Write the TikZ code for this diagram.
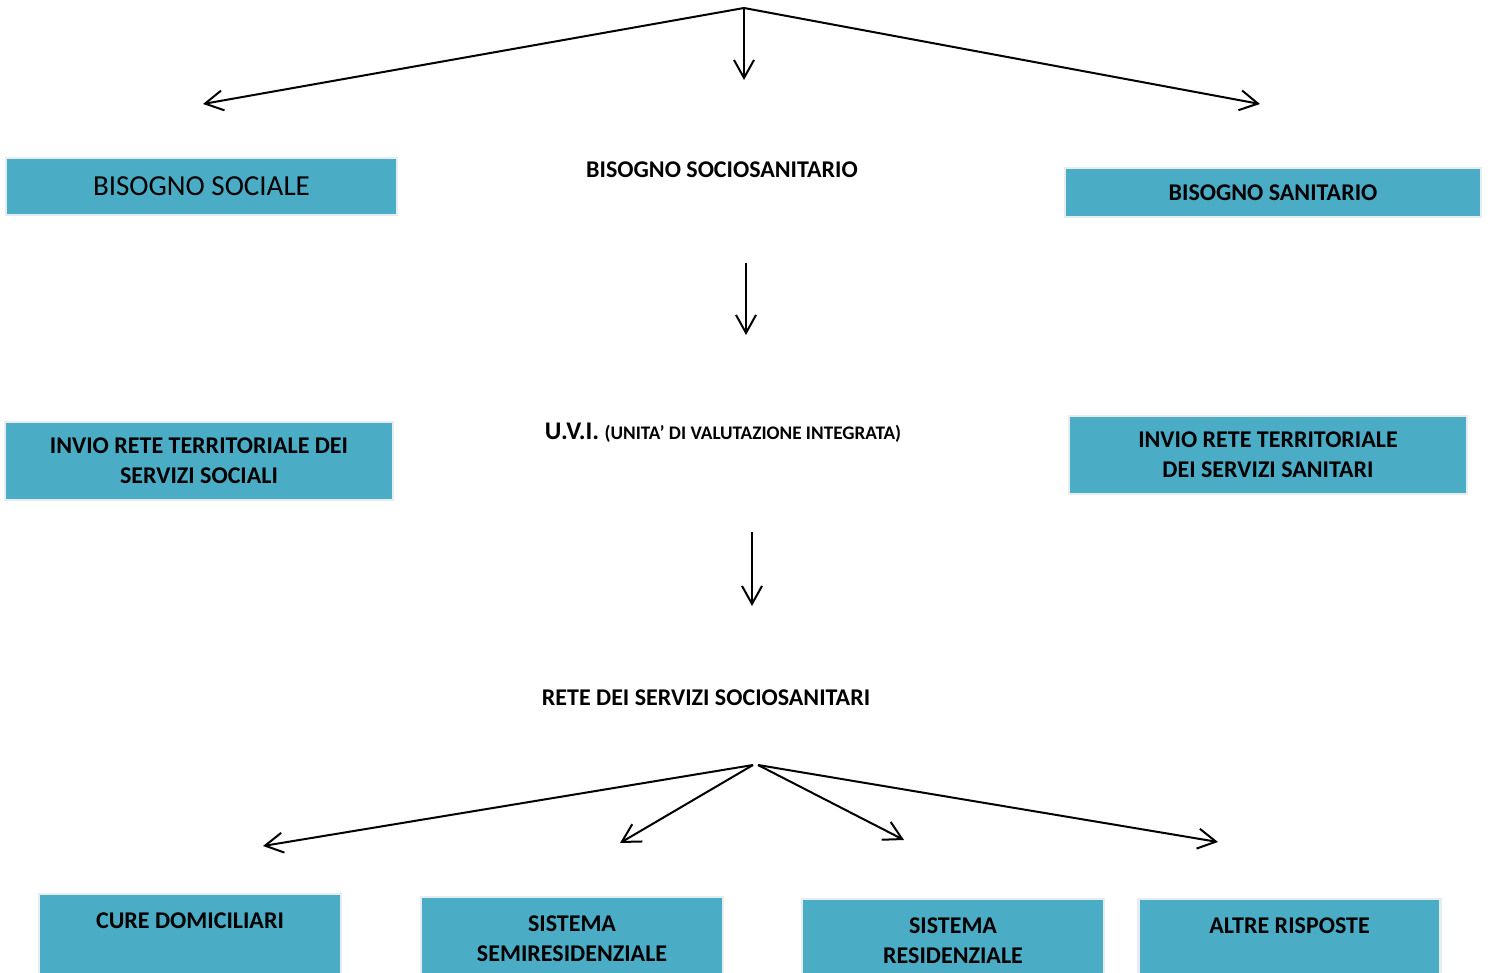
\documentclass[tikz,border=0pt]{standalone}
\usepackage{fontspec}
\setmainfont{Carlito}
\usetikzlibrary{arrows.meta, positioning}
\definecolor{boxblue}{RGB}{75,172,198}
\definecolor{boxedge}{RGB}{230,237,240}

\begin{document}
\begin{tikzpicture}[x=0.5pt, y=-0.5pt, line width=1pt, >={Straight Barb[length=9pt,width=10pt]},
  box/.style = {draw=boxedge, line width=1.2pt, fill=boxblue, align=center, inner sep=0pt, font=\fontsize{12}{15}\selectfont\bfseries},
  lowbox/.style = {box, anchor=north, minimum width=151pt, inner ysep=9.5pt, text depth=60pt},
  lbl/.style = {inner sep=0pt, font=\fontsize{12}{15}\selectfont\bfseries}]
\clip (0,0) rectangle (1490,973);

\node[box, minimum width=195.5pt, minimum height=28.5pt, font=\fontsize{14.5}{17}\selectfont] (social) at (201.5,186.5) {BISOGNO SOCIALE};
\node[lbl] (sociosan) at (722,170) {BISOGNO SOCIOSANITARIO};
\node[box, minimum width=208pt, minimum height=24.5pt] (sanitario) at (1273,192.5) {BISOGNO SANITARIO};

\node[box, minimum width=194pt, minimum height=39pt] (invsoc) at (199,461) {INVIO RETE TERRITORIALE DEI\\SERVIZI SOCIALI};
\node[lbl] (uvi) at (723,433) {{\fontsize{12.7}{15}\selectfont U.V.I.} {\fontsize{9.6}{11}\selectfont (UNITA’ DI VALUTAZIONE INTEGRATA)}};
\node[box, minimum width=199pt, minimum height=39pt] (invsan) at (1268,455) {INVIO RETE TERRITORIALE\\DEI SERVIZI SANITARI};

\node[lbl] (rete) at (706,698) {RETE DEI SERVIZI SOCIOSANITARI};

\node[lowbox] (cure) at (190,893) {CURE DOMICILIARI};
\node[lowbox] (semi) at (572,896) {SISTEMA\\SEMIRESIDENZIALE};
\node[lowbox] (resid) at (953,898) {SISTEMA\\RESIDENZIALE};
\node[lowbox] (altre) at (1289.5,898) {ALTRE RISPOSTE};

\coordinate (top) at (744,8);
\coordinate (topL) at (203,104);
\coordinate (topM) at (744,80);
\coordinate (topR) at (1260,104);
\coordinate (uviIn) at (746,263);
\coordinate (uviTip) at (746,335);
\coordinate (reteIn) at (752,532);
\coordinate (reteTip) at (752,606);
\coordinate (botL) at (753,765);
\coordinate (botR) at (758,765);
\coordinate (cureTip) at (263,846);
\coordinate (semiTip) at (620,843);
\coordinate (residTip) at (904,840);
\coordinate (altreTip) at (1218,842);

\draw[->] (top) -- (topL);
\draw[->] (top) -- (topM);
\draw[->] (top) -- (topR);
\draw[->] (uviIn) -- (uviTip);
\draw[->] (reteIn) -- (reteTip);
\draw[->] (botL) -- (cureTip);
\draw[->] (botL) -- (semiTip);
\draw[->] (botR) -- (residTip);
\draw[->] (botR) -- (altreTip);
\end{tikzpicture}
\end{document}
